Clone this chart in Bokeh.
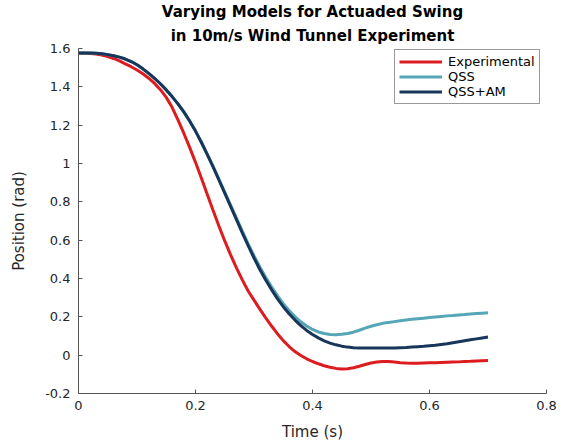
from bokeh.plotting import figure
from bokeh.models import Title, Range1d, FixedTicker, Legend, LegendItem
from bokeh.embed import file_html
from bokeh.resources import INLINE

t = [round(i * 0.01, 2) for i in range(71)]

experimental = [
    1.575, 1.575, 1.574, 1.571, 1.566, 1.558, 1.548, 1.535, 1.520, 1.505,
    1.488, 1.468, 1.445, 1.418, 1.385, 1.345, 1.293, 1.228, 1.158, 1.084,
    1.006, 0.924, 0.840, 0.756, 0.674, 0.596, 0.523, 0.455, 0.393, 0.335,
    0.287, 0.240, 0.195, 0.152, 0.112, 0.076, 0.045, 0.019, -0.002, -0.019,
    -0.033, -0.045, -0.055, -0.063, -0.069, -0.072, -0.071, -0.066, -0.058, -0.049,
    -0.041, -0.036, -0.033, -0.033, -0.036, -0.039, -0.041, -0.042, -0.042, -0.041,
    -0.040, -0.039, -0.038, -0.037, -0.036, -0.035, -0.033, -0.032, -0.030, -0.029,
    -0.028,
]

qss = [
    1.576, 1.576, 1.576, 1.575, 1.573, 1.568, 1.562, 1.555, 1.545, 1.532,
    1.515, 1.494, 1.470, 1.444, 1.416, 1.384, 1.349, 1.311, 1.269, 1.222,
    1.169, 1.111, 1.049, 0.986, 0.919, 0.851, 0.783, 0.715, 0.647, 0.581,
    0.519, 0.460, 0.406, 0.357, 0.311, 0.269, 0.233, 0.201, 0.174, 0.152,
    0.134, 0.121, 0.113, 0.108, 0.107, 0.109, 0.113, 0.120, 0.130, 0.141,
    0.151, 0.159, 0.166, 0.171, 0.175, 0.179, 0.183, 0.187, 0.190, 0.193,
    0.196, 0.199, 0.202, 0.205, 0.207, 0.210, 0.212, 0.215, 0.217, 0.219,
    0.221,
]

qss_am = [
    1.576, 1.576, 1.576, 1.575, 1.573, 1.568, 1.562, 1.555, 1.545, 1.532,
    1.515, 1.494, 1.470, 1.444, 1.416, 1.384, 1.349, 1.311, 1.269, 1.222,
    1.169, 1.111, 1.048, 0.982, 0.914, 0.845, 0.776, 0.707, 0.638, 0.571,
    0.507, 0.447, 0.392, 0.342, 0.295, 0.253, 0.216, 0.183, 0.154, 0.129,
    0.108, 0.090, 0.075, 0.063, 0.054, 0.047, 0.042, 0.039, 0.038, 0.037,
    0.037, 0.037, 0.037, 0.037, 0.038, 0.039, 0.040, 0.042, 0.044, 0.046,
    0.049, 0.052, 0.056, 0.060, 0.065, 0.070, 0.075, 0.080, 0.085, 0.090,
    0.095,
]

series_names = ["Experimental", "QSS", "QSS+AM"]
series_colors = ["#DC1C1E", "#55A6B6", "#17365A"]

x_ticks = [0, 0.2, 0.4, 0.6, 0.8]
y_ticks = [-0.2, 0, 0.2, 0.4, 0.6, 0.8, 1.0, 1.2, 1.4, 1.6]
title_lines = ["Varying Models for Actuaded Swing", "in 10m/s Wind Tunnel Experiment"]

FONT = "DejaVu Sans"
TXT = "#262626"

p = figure(width=570, height=445, output_backend="svg", toolbar_location=None,
           x_range=Range1d(0, 0.8), y_range=Range1d(-0.2, 1.6),
           min_border_left=78, min_border_right=24, min_border_top=48, min_border_bottom=52)
p.title = None
p.outline_line_color = None
p.grid.visible = False
p.background_fill_color = "white"
p.border_fill_color = "white"

items = []
for ys, name, col in zip([experimental, qss, qss_am], series_names, series_colors):
    r = p.line(t, ys, line_color=col, line_width=3)
    items.append(LegendItem(label=name, renderers=[r]))

legend = Legend(items=items, location=(316, 289), label_text_font=FONT,
                label_text_font_size="13px", label_text_color="black",
                border_line_color="#333333", border_line_width=1,
                background_fill_alpha=1, glyph_width=43, glyph_height=15,
                label_height=15, spacing=0, padding=4, margin=0,
                label_standoff=6)
p.add_layout(legend)

for ax in (p.xaxis, p.yaxis):
    ax.axis_line_color = "#555555"
    ax.major_tick_line_color = "#555555"
    ax.minor_tick_line_color = None
    ax.major_tick_in = 4
    ax.major_tick_out = 0
    ax.major_label_text_font = FONT
    ax.major_label_text_font_size = "13px"
    ax.major_label_text_color = TXT
    ax.axis_label_text_font = FONT
    ax.axis_label_text_font_size = "15px"
    ax.axis_label_text_font_style = "normal"
    ax.axis_label_text_color = TXT

p.xaxis.ticker = FixedTicker(ticks=x_ticks)
p.yaxis.ticker = FixedTicker(ticks=y_ticks)
p.xaxis.major_label_overrides = {0: "0", 0.2: "0.2", 0.4: "0.4", 0.6: "0.6", 0.8: "0.8"}
p.yaxis.major_label_overrides = {-0.2: "-0.2", 0: "0", 0.2: "0.2", 0.4: "0.4", 0.6: "0.6",
                                 0.8: "0.8", 1.0: "1", 1.2: "1.2", 1.4: "1.4", 1.6: "1.6"}
p.xaxis.axis_label = "Time (s)"
p.yaxis.axis_label = "Position (rad)"
p.xaxis.major_label_standoff = 7
p.yaxis.major_label_standoff = 8
p.xaxis.axis_label_standoff = 10
p.yaxis.axis_label_standoff = 14

p.add_layout(Title(text=title_lines[1], align="center", text_font=FONT,
                   text_font_size="15px", text_font_style="bold", text_color="black",
                   standoff=8, offset=0), "above")
p.add_layout(Title(text=title_lines[0], align="center", text_font=FONT,
                   text_font_size="15px", text_font_style="bold", text_color="black",
                   standoff=0, offset=0), "above")

open("out.html", "w").write(file_html(p, INLINE))
